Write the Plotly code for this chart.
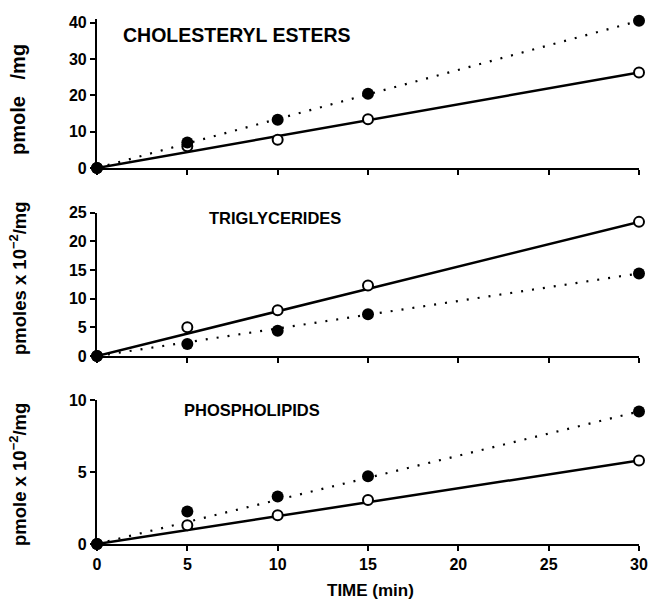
import plotly.graph_objects as go
from plotly.subplots import make_subplots

time = [0, 5, 10, 15, 30]

# Cholesteryl esters (pmole/mg)
ce_filled = [0, 7.0, 13.3, 20.4, 40.5]
ce_open = [0, 6.0, 7.8, 13.4, 26.3]
# Triglycerides (pmoles x 10^-2 / mg)
tg_open = [0, 5.0, 8.0, 12.3, 23.4]
tg_filled = [0, 2.1, 4.4, 7.3, 14.4]
# Phospholipids (pmole x 10^-2 / mg)
pl_filled = [0, 2.25, 3.3, 4.7, 9.2]
pl_open = [0, 1.3, 2.0, 3.05, 5.8]

# fitted lines (start/end values)
fit_x = [0, 30]
ce_fit_filled = [0, 40.5]
ce_fit_open = [0, 26.3]
tg_fit_open = [0, 23.4]
tg_fit_filled = [0, 14.4]
pl_fit_filled = [0, 9.2]
pl_fit_open = [0, 5.8]

titles = ["CHOLESTERYL ESTERS", "TRIGLYCERIDES", "PHOSPHOLIPIDS"]
ylabels = ["pmole&nbsp;&nbsp;&nbsp;/mg", "pmoles x 10<sup>\u22122</sup>/mg", "pmole x 10<sup>\u22122</sup>/mg"]
xlabel = "TIME (min)"
yranges = [[0, 41], [0, 25], [0, 10]]
ytickvals = [[0, 10, 20, 30, 40], [0, 5, 10, 15, 20, 25], [0, 5, 10]]
xtickvals = [0, 5, 10, 15, 20, 25, 30]

FONT = "Liberation Sans, Arial, sans-serif"

fig = make_subplots(rows=3, cols=1, shared_xaxes=False, vertical_spacing=0.08)

panels = [
    (ce_filled, ce_open, ce_fit_filled, ce_fit_open),
    (tg_filled, tg_open, tg_fit_filled, tg_fit_open),
    (pl_filled, pl_open, pl_fit_filled, pl_fit_open),
]

for i, (filled, opn, ffit, ofit) in enumerate(panels, start=1):
    fig.add_trace(go.Scatter(x=fit_x, y=ffit, mode="lines",
                             line=dict(color="black", width=2.2, dash="2px,9px"),
                             showlegend=False, cliponaxis=False), row=i, col=1)
    fig.add_trace(go.Scatter(x=fit_x, y=ofit, mode="lines",
                             line=dict(color="black", width=2.5),
                             showlegend=False, cliponaxis=False), row=i, col=1)
    fig.add_trace(go.Scatter(x=time, y=opn, mode="markers",
                             marker=dict(symbol="circle", size=10, color="white",
                                         line=dict(color="black", width=2)),
                             showlegend=False, cliponaxis=False), row=i, col=1)
    fig.add_trace(go.Scatter(x=time, y=filled, mode="markers",
                             marker=dict(symbol="circle", size=12, color="black"),
                             showlegend=False, cliponaxis=False), row=i, col=1)

# pixel-based domains (plot area from y=19 to y=544)
PT, PB = 19, 544
H = PB - PT
def dom(top_px, bot_px):
    return [(PB - bot_px) / H, (PB - top_px) / H]

domains = [dom(19, 168), dom(212.7, 356), dom(400, 544)]
tickfont = dict(family=FONT, size=16, color="black", weight="bold")

for i in range(3):
    xa = "xaxis" if i == 0 else f"xaxis{i+1}"
    ya = "yaxis" if i == 0 else f"yaxis{i+1}"
    fig.layout[xa].update(
        range=[0, 30], tickvals=xtickvals, showticklabels=(i == 2),
        ticks="outside", ticklen=5, tickwidth=2, tickcolor="black",
        showline=True, linecolor="black", linewidth=2.2, showgrid=False,
        zeroline=False, tickfont=tickfont, automargin=False,
    )
    fig.layout[ya].update(
        domain=domains[i], range=yranges[i], tickvals=ytickvals[i],
        ticks="outside", ticklen=5, tickwidth=2, tickcolor="black",
        showline=True, linecolor="black", linewidth=2.2, showgrid=False,
        zeroline=False, tickfont=tickfont, automargin=False,
    )

L, R = 97, 639
W = R - L

def px_x(px):
    return (px - L) / W

def px_y(py):
    return (PB - py) / H

# x-axis title
fig.add_annotation(text=xlabel, xref="paper", yref="paper",
                   x=px_x(370), y=px_y(590), xanchor="center", yanchor="middle",
                   showarrow=False,
                   font=dict(family=FONT, size=17, color="black", weight="bold"))

# y-axis titles as rotated annotations
ylabel_pos = [(18, 100, 20), (18, 278, 18.5), (18, 475, 18.5)]
for t, (px, py, fs) in zip(ylabels, ylabel_pos):
    fig.add_annotation(text=t, xref="paper", yref="paper",
                       x=px_x(px), y=px_y(py),
                       xanchor="center", yanchor="middle", textangle=-90,
                       showarrow=False,
                       font=dict(family=FONT, size=fs, color="black", weight="bold"))

title_pos = [(121, 35, 19.5), (207, 218, 16.5), (182, 410, 16.5)]
for t, (px, py, fs) in zip(titles, title_pos):
    fig.add_annotation(text=t, xref="paper", yref="paper",
                       x=px_x(px), y=px_y(py),
                       xanchor="left", yanchor="middle", showarrow=False,
                       font=dict(family=FONT, size=fs, color="black", weight="bold"))

fig.update_layout(
    width=655, height=604,
    margin=dict(l=L, r=655 - R, t=PT, b=604 - PB, autoexpand=False),
    paper_bgcolor="white", plot_bgcolor="white",
)

fig.write_html("out.html")
